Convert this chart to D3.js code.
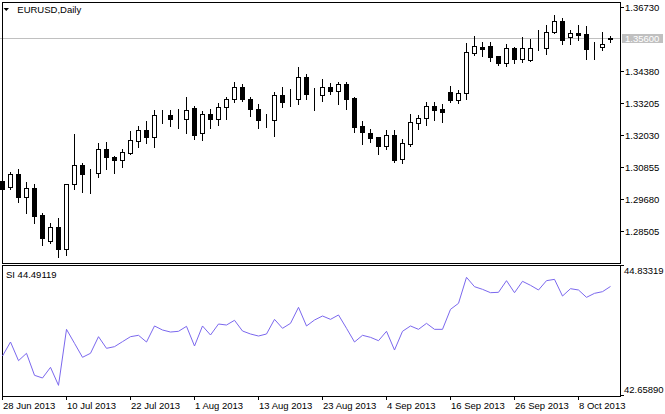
<!DOCTYPE html>
<html><head><meta charset="utf-8">
<script src="https://cdn.jsdelivr.net/npm/d3@7"></script>
<style>
html,body{margin:0;padding:0;background:#fff;}
svg{display:block;}
text{font-family:"Liberation Sans",Arial,sans-serif;font-size:9.5px;fill:#000;}
</style></head><body>
<svg id="chart" width="665" height="414"></svg>
<script>
// ---- data ----
const symbolLabel = "EURUSD,Daily";
const indicatorName = "SI";
const startDate = "2013-06-28";
const endDate = "2013-10-14";
const open = [1.30363,1.30133,1.30620,1.29788,1.30096,1.29117,1.28175,1.28677,1.27860,1.30242,
1.30950,1.30657,1.30646,1.31525,1.31243,1.31122,1.31379,1.31819,1.32233,1.31965,
1.32772,1.32772,1.32636,1.32625,1.33039,1.32112,1.32819,1.32625,1.33065,1.33358,
1.33798,1.33358,1.32991,1.32588,1.32588,1.33505,1.33369,1.33369,1.34164,1.33563,
1.33527,1.33798,1.33673,1.33919,1.33417,1.32379,1.32123,1.31976,1.31657,1.32049,
1.31181,1.31731,1.32500,1.32662,1.33101,1.33002,1.33626,1.33332,1.33578,1.35055,
1.35275,1.35312,1.34934,1.34699,1.35227,1.34846,1.34809,1.35227,1.35227,1.35814,
1.36217,1.35630,1.35788,1.35740,1.35245,1.35264,1.35580];
const high = [1.30400,1.30693,1.30803,1.30338,1.30253,1.29202,1.28813,1.29007,1.30250,1.32086,
1.31034,1.30803,1.31756,1.31793,1.31291,1.31525,1.32185,1.32379,1.32563,1.32955,
1.32955,1.32955,1.33002,1.33442,1.33112,1.32940,1.33002,1.33222,1.33442,1.33981,
1.33908,1.33442,1.33186,1.32808,1.33615,1.33809,1.33735,1.34531,1.34285,1.33761,
1.34102,1.33955,1.33981,1.33981,1.33453,1.32563,1.32269,1.31990,1.32222,1.32222,
1.31892,1.32819,1.32772,1.33248,1.33248,1.33197,1.33834,1.33699,1.35433,1.35678,
1.35469,1.35458,1.34945,1.35396,1.35275,1.35641,1.35568,1.35898,1.36081,1.36448,
1.36327,1.35898,1.36081,1.36045,1.35447,1.35814,1.35678];
const low = [1.30033,1.30059,1.29605,1.29202,1.28813,1.28018,1.28102,1.27567,1.27640,1.30059,
1.29971,1.29935,1.30521,1.30803,1.30668,1.30888,1.31342,1.31621,1.31767,1.31621,
1.32500,1.32390,1.32306,1.32134,1.31914,1.31877,1.32306,1.32427,1.32647,1.33270,
1.33296,1.32757,1.32317,1.32354,1.32024,1.33076,1.33123,1.33197,1.33358,1.32966,
1.33296,1.33552,1.33186,1.33013,1.32159,1.31720,1.31793,1.31342,1.31536,1.31049,
1.31034,1.31635,1.32280,1.32427,1.32588,1.32537,1.33259,1.33233,1.33380,1.34982,
1.34956,1.34773,1.34626,1.34590,1.34688,1.34736,1.34762,1.35176,1.35029,1.35777,
1.35374,1.35396,1.35542,1.34846,1.34835,1.35176,1.35447];
const close = [1.30070,1.30620,1.29788,1.30096,1.29092,1.28285,1.28677,1.27860,1.30242,1.30950,
1.30631,1.30650,1.31525,1.31232,1.31122,1.31415,1.31855,1.32222,1.31965,1.32772,
1.32765,1.32625,1.32630,1.32966,1.32060,1.32819,1.32625,1.33065,1.33369,1.33798,
1.33380,1.32991,1.32588,1.32595,1.33505,1.33270,1.33362,1.34164,1.33563,1.33570,
1.33798,1.33673,1.33919,1.33380,1.32354,1.32159,1.31940,1.31646,1.32049,1.31133,
1.31745,1.32526,1.32673,1.33101,1.32977,1.32903,1.33343,1.33578,1.35081,1.35301,
1.35213,1.34919,1.34699,1.35227,1.34846,1.35227,1.35227,1.35234,1.35814,1.36217,
1.35542,1.35788,1.35726,1.35213,1.35238,1.35385,1.35600];
const si = [43.328,43.562,43.250,43.373,43.005,42.960,43.138,42.837,43.774,43.540,
43.306,43.373,43.651,43.456,43.484,43.568,43.651,43.674,43.562,43.830,
43.763,43.729,43.741,43.824,43.495,43.830,43.679,43.863,43.846,43.925,
43.746,43.696,43.662,43.696,43.941,43.791,43.874,44.142,43.830,43.930,
43.997,43.941,44.014,43.791,43.562,43.674,43.640,43.584,43.741,43.428,
43.741,43.830,43.774,43.874,43.774,43.774,44.108,44.209,44.644,44.487,
44.443,44.387,44.393,44.588,44.387,44.577,44.510,44.432,44.588,44.610,
44.331,44.454,44.432,44.309,44.376,44.404,44.49119];
const bidPrice = 1.35600;
const priceTicks = [1.36730,1.34380,1.33205,1.32030,1.30855,1.29680,1.28505];
const priceTickLabels = ["1.36730","1.34380","1.33205","1.32030","1.30855","1.29680","1.28505"];
const siRange = [42.65890, 44.83319];
const siRangeLabels = ["42.65890","44.83319"];
const dateTickLabels = ["28 Jun 2013","10 Jul 2013","22 Jul 2013","1 Aug 2013","13 Aug 2013",
"23 Aug 2013","4 Sep 2013","16 Sep 2013","26 Sep 2013","8 Oct 2013"];

// ---- layout ----
const W = 665, H = 414;
const L = 2.5, R = 620.5;
const mainTop = 2.5, mainBot = 263.5;
const indTop = 265.5, indBot = 396.5;

const parse = d3.timeParse("%Y-%m-%d");
const fmt = d3.timeFormat("%-d %b %Y");
const dates = d3.timeDay.range(parse(startDate), d3.timeDay.offset(parse(endDate), 1))
  .filter(d => d.getDay() !== 0 && d.getDay() !== 6);
const bars = dates.map((d, i) => ({d, key: fmt(d), o: open[i], h: high[i], l: low[i], c: close[i], s: si[i]}));

const x = d3.scalePoint().domain(bars.map(b => b.key)).range([2.5, 610.5]);
const y = d3.scaleLinear().domain([1.273395, 1.369059]).range([mainBot, mainTop]);
const ys = d3.scaleLinear().domain(siRange).range([396, 266]);

const svg = d3.select("#chart");
svg.append("rect").attr("width", W).attr("height", H).attr("fill", "#fff");

const crisp = v => Math.round(v - 0.5) + 0.5;

// bid line
const yb = crisp(y(bidPrice));
svg.append("line").attr("x1", 0).attr("x2", R).attr("y1", yb).attr("y2", yb)
  .attr("stroke", "#c0c0c0").attr("stroke-width", 1);

// candles
const g = svg.append("g").attr("shape-rendering", "crispEdges");
const cg = g.selectAll("g.c").data(bars).join("g").attr("class", "c");
cg.append("line")
  .attr("x1", b => x(b.key)).attr("x2", b => x(b.key))
  .attr("y1", b => Math.round(y(b.h))).attr("y2", b => Math.round(y(b.l)) + 1)
  .attr("stroke", "#000").attr("stroke-width", 1);
cg.append("rect")
  .attr("x", b => x(b.key) - 2)
  .attr("y", b => Math.round(y(Math.max(b.o, b.c))) + 0.5)
  .attr("width", 4)
  .attr("height", b => Math.max(0, Math.round(y(Math.min(b.o, b.c))) - Math.round(y(Math.max(b.o, b.c)))))
  .attr("fill", b => b.c >= b.o ? "#fff" : "#000")
  .attr("stroke", "#000").attr("stroke-width", 1);

// frames
svg.append("rect").attr("x", L).attr("y", mainTop).attr("width", R - L).attr("height", mainBot - mainTop)
  .attr("fill", "none").attr("stroke", "#000").attr("shape-rendering", "crispEdges");
svg.append("rect").attr("x", L).attr("y", indTop).attr("width", R - L).attr("height", indBot - indTop)
  .attr("fill", "none").attr("stroke", "#000").attr("shape-rendering", "crispEdges");

// price axis
const pa = svg.append("g");
priceTicks.forEach((p, i) => {
  const ty = crisp(y(p));
  pa.append("line").attr("x1", R).attr("x2", R + 3).attr("y1", ty).attr("y2", ty)
    .attr("stroke", "#000").attr("shape-rendering", "crispEdges");
  pa.append("text").attr("x", 625).attr("y", ty + 3.5).text(priceTickLabels[i]);
});
// bid label
svg.append("rect").attr("x", 622).attr("y", yb - 4.5).attr("width", 41).attr("height", 9)
  .attr("fill", "#c0c0c0");
svg.append("text").attr("x", 625).attr("y", yb + 3.5).attr("fill", "#fff").style("fill", "#fff")
  .text(d3.format(".5f")(bidPrice));

// indicator scale
[[siRange[1], 265.5, 274], [siRange[0], 395.5, 393.3]].forEach(([v, ty, by], i) => {
  svg.append("line").attr("x1", R).attr("x2", R + 3).attr("y1", ty).attr("y2", ty)
    .attr("stroke", "#000").attr("shape-rendering", "crispEdges");
  svg.append("text").attr("x", 624).attr("y", by).text(d3.format(".5f")(v));
});

// SI line
svg.append("path").datum(bars)
  .attr("d", d3.line().x(b => x(b.key)).y(b => ys(b.s)))
  .attr("fill", "none").attr("stroke", "#7b68ee").attr("stroke-width", 1);

// time axis
dateTickLabels.forEach(lbl => {
  const tx = x(lbl);
  if (tx === undefined) return;
  svg.append("line").attr("x1", tx).attr("x2", tx).attr("y1", indBot).attr("y2", 400)
    .attr("stroke", "#000").attr("shape-rendering", "crispEdges");
  svg.append("text").attr("x", tx + 0.5).attr("y", 408.7).text(lbl);
});

// titles
svg.append("path").attr("d", "M3.5,8 L9,8 L6.25,11 Z").attr("fill", "#000");
svg.append("text").attr("x", 17.3).attr("y", 13.4).text(symbolLabel);
svg.append("text").attr("x", 6).attr("y", 278.3).text(indicatorName + " " + d3.format(".5f")(si[si.length - 1]));
</script>
</body></html>
